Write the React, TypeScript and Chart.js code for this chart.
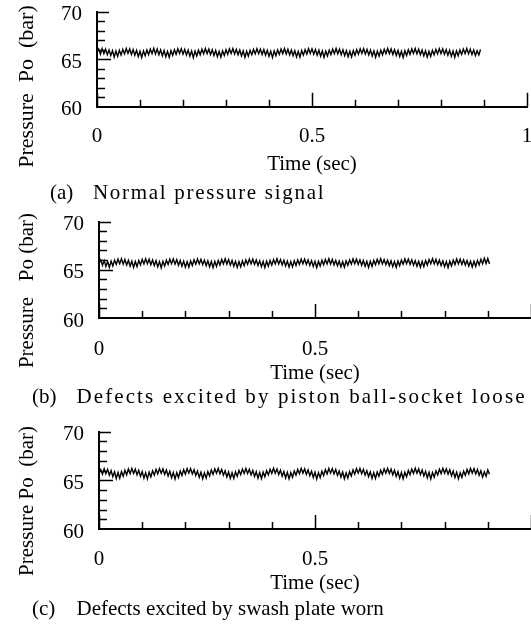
import React, { useEffect, useRef } from "react";
import { Chart, registerables } from "chart.js";

Chart.register(...registerables);

// ---------------- data ----------------
const sampleInterval = 0.004; // seconds between samples

const signalNormal = [
  65.75, 66.08, 65.52, 66.12, 65.58, 66.05, 65.48, 65.98, 65.38, 65.90, 65.22, 65.86, 65.30, 65.95, 65.45, 66.04,
  65.56, 66.13, 65.60, 66.09, 65.50, 66.02, 65.42, 65.93, 65.28, 65.84, 65.18, 65.88, 65.36, 65.97, 65.49, 66.06,
  65.58, 66.14, 65.55, 66.07, 65.47, 65.99, 65.35, 65.91, 65.25, 65.83, 65.20, 65.90, 65.40, 66.00, 65.52, 66.10,
  65.61, 66.11, 65.53, 66.03, 65.44, 65.96, 65.32, 65.87, 65.16, 65.85, 65.33, 65.94, 65.46, 66.05, 65.57, 66.12,
  65.59, 66.06, 65.49, 66.00, 65.40, 65.92, 65.27, 65.82, 65.21, 65.89, 65.38, 65.99, 65.51, 66.08, 65.60, 66.13,
  65.54, 66.04, 65.46, 65.97, 65.34, 65.88, 65.19, 65.84, 65.31, 65.93, 65.47, 66.03, 65.56, 66.11, 65.58, 66.07,
  65.50, 66.01, 65.41, 65.94, 65.29, 65.85, 65.17, 65.87, 65.37, 65.98, 65.50, 66.07, 65.59, 66.12, 65.55, 66.05,
  65.45, 65.97, 65.36, 65.90, 65.24, 65.83, 65.22, 65.91, 65.43, 66.01, 65.54, 66.10, 65.61, 66.09, 65.52, 66.02,
  65.42, 65.95, 65.31, 65.86, 65.19, 65.86, 65.35, 65.96, 65.48, 66.05, 65.58, 66.13, 65.57, 66.06, 65.47, 65.99,
  65.37, 65.91, 65.26, 65.84, 65.23, 65.90, 65.41, 66.00, 65.53, 66.09, 65.60, 66.11, 65.54, 66.03, 65.44, 65.96,
  65.33, 65.88, 65.20, 65.85, 65.32, 65.95, 65.46, 66.04, 65.57, 66.12, 65.59, 66.08, 65.50, 66.00, 65.39, 65.92,
  65.28, 65.84, 65.18, 65.89, 65.39, 65.99, 65.51, 66.08, 65.60, 66.13, 65.56, 66.05, 65.46, 65.97, 65.35, 65.89,
  65.23, 65.83, 65.30, 65.94, 65.45, 66.03, 65.55, 66.11, 65.59, 66.09, 65.52, 66.01, 65.42, 65.93, 65.30, 65.86,
  65.20, 65.87, 65.37, 65.98, 65.50, 66.07, 65.58, 66.13, 65.56, 66.06, 65.48, 65.98, 65.38, 65.90, 65.45, 66.02,
];

const signalBallSocket = [
  65.68, 66.02, 65.45, 65.95, 65.35, 65.88, 65.25, 65.90, 65.40, 66.00, 65.55, 66.10, 65.62, 66.14, 65.58, 66.06,
  65.48, 65.98, 65.36, 65.89, 65.24, 65.86, 65.33, 65.97, 65.50, 66.07, 65.60, 66.15, 65.63, 66.09, 65.52, 66.01,
  65.43, 65.94, 65.30, 65.85, 65.21, 65.88, 65.38, 65.99, 65.54, 66.10, 65.62, 66.13, 65.57, 66.04, 65.47, 65.96,
  65.37, 65.90, 65.26, 65.84, 65.27, 65.93, 65.44, 66.03, 65.58, 66.12, 65.61, 66.08, 65.53, 66.00, 65.41, 65.92,
  65.31, 65.87, 65.22, 65.87, 65.35, 65.97, 65.49, 66.07, 65.61, 66.14, 65.59, 66.05, 65.48, 65.97, 65.36, 65.88,
  65.25, 65.84, 65.29, 65.92, 65.42, 66.02, 65.56, 66.11, 65.63, 66.10, 65.55, 66.02, 65.44, 65.94, 65.32, 65.86,
  65.22, 65.89, 65.37, 65.97, 65.48, 66.06, 65.60, 66.14, 65.60, 66.06, 65.50, 65.98, 65.39, 65.90, 65.27, 65.85,
  65.30, 65.93, 65.44, 66.02, 65.55, 66.11, 65.62, 66.11, 65.55, 66.02, 65.45, 65.94, 65.34, 65.87, 65.23, 65.88,
  65.38, 65.98, 65.51, 66.07, 65.60, 66.14, 65.59, 66.07, 65.51, 65.98, 65.41, 65.91, 65.29, 65.85, 65.26, 65.92,
  65.45, 66.03, 65.57, 66.12, 65.63, 66.10, 65.56, 66.03, 65.46, 65.95, 65.36, 65.87, 65.24, 65.88, 65.34, 65.96,
  65.52, 66.08, 65.61, 66.15, 65.60, 66.06, 65.52, 65.99, 65.42, 65.92, 65.31, 65.85, 65.25, 65.91, 65.41, 66.01,
  65.58, 66.12, 65.63, 66.11, 65.56, 66.03, 65.47, 65.95, 65.37, 65.88, 65.26, 65.86, 65.32, 65.95, 65.48, 66.06,
  65.62, 66.15, 65.60, 66.07, 65.52, 65.99, 65.43, 65.91, 65.32, 65.85, 65.23, 65.89, 65.39, 66.00, 65.54, 66.11,
  65.61, 66.10, 65.55, 66.03, 65.48, 65.95, 65.38, 65.88, 65.28, 65.87, 65.35, 65.96, 65.50, 66.08, 65.62, 66.18,
  65.64, 66.16, 65.60,
];

const signalSwashPlate = [
  65.72, 66.10, 65.62, 66.18, 65.66, 66.12, 65.52, 66.00, 65.36, 65.86, 65.18, 65.80, 65.22, 65.88, 65.40, 66.02,
  65.56, 66.15, 65.68, 66.22, 65.70, 66.14, 65.56, 66.02, 65.40, 65.88, 65.20, 65.78, 65.14, 65.84, 65.34, 65.98,
  65.52, 66.12, 65.66, 66.20, 65.72, 66.16, 65.60, 66.05, 65.44, 65.92, 65.26, 65.80, 65.12, 65.79, 65.28, 65.94,
  65.48, 66.08, 65.63, 66.19, 65.73, 66.19, 65.64, 66.08, 65.48, 65.95, 65.30, 65.83, 65.15, 65.76, 65.22, 65.90,
  65.44, 66.05, 65.60, 66.17, 65.71, 66.21, 65.67, 66.11, 65.52, 65.98, 65.34, 65.85, 65.18, 65.77, 65.19, 65.87,
  65.40, 66.02, 65.58, 66.15, 65.70, 66.22, 65.69, 66.13, 65.55, 66.01, 65.38, 65.88, 65.21, 65.79, 65.16, 65.83,
  65.36, 65.99, 65.55, 66.13, 65.69, 66.23, 65.71, 66.15, 65.58, 66.04, 65.42, 65.90, 65.24, 65.81, 65.14, 65.80,
  65.32, 65.96, 65.52, 66.11, 65.67, 66.22, 65.72, 66.17, 65.61, 66.07, 65.46, 65.93, 65.28, 65.82, 65.13, 65.78,
  65.27, 65.93, 65.48, 66.09, 65.65, 66.21, 65.73, 66.19, 65.64, 66.10, 65.50, 65.96, 65.32, 65.84, 65.15, 65.76,
  65.22, 65.89, 65.44, 66.06, 65.63, 66.19, 65.73, 66.21, 65.67, 66.12, 65.53, 65.99, 65.36, 65.86, 65.18, 65.77,
  65.18, 65.85, 65.40, 66.03, 65.60, 66.17, 65.72, 66.22, 65.69, 66.14, 65.56, 66.02, 65.39, 65.88, 65.21, 65.79,
  65.15, 65.82, 65.36, 66.00, 65.57, 66.15, 65.70, 66.23, 65.71, 66.16, 65.59, 66.05, 65.43, 65.91, 65.24, 65.81,
  65.13, 65.79, 65.32, 65.97, 65.54, 66.13, 65.68, 66.22, 65.72, 66.18, 65.62, 66.08, 65.47, 65.94, 65.28, 65.83,
  65.14, 65.77, 65.28, 65.94, 65.51, 66.11, 65.66, 66.21, 65.73, 66.20, 65.65, 66.11, 65.51, 65.97, 65.32, 65.86,
  65.40, 66.05, 65.62,
];

const yTickValues = [60, 65, 70];
const yMinorTicks = [61, 62, 63, 64, 66, 67, 68, 69];
const xTickValuesFull = [0, 0.5, 1];
const xTickValuesShort = [0, 0.5];
const xMinorTicks = [0.1, 0.2, 0.3, 0.4, 0.6, 0.7, 0.8, 0.9];
const xMajorTicks = [0, 0.5, 1];

const xTitle = "Time (sec)";
const yTitles = ["Pressure  Po  (bar)", "Pressure   Po (bar)", "Pressure Po  (bar)"];
const captionTags = ["(a)", "(b)", "(c)"];
const captionTexts = [
  "Normal pressure signal",
  "Defects excited by piston ball-socket loose",
  "Defects excited by swash plate worn",
];

// ---------------- layout ----------------
const FONT = "'Liberation Serif', 'Times New Roman', Times, serif";
const FS = 21;
const CANVAS_W = 560;

type PanelCfg = {
  top: number;
  height: number;
  values: number[];
  xTicks: number[];
  plotLeft: number;
  plotRight: number;
  plotTop: number;
  plotBottom: number;
  xLabelY: number;
  timeY: number;
  yTitle: string;
  yTitleSize: number;
  yTitleX: number;
  yTitleY: number;
  tag: string;
  tagX: number;
  caption: string;
  captionX: number;
  captionY: number;
  captionSpacing: number;
};

const panels: PanelCfg[] = [
  {
    top: 0, height: 210, values: signalNormal, xTicks: xTickValuesFull,
    plotLeft: 97, plotRight: 527, plotTop: 11.7, plotBottom: 106.7,
    xLabelY: 136.7, timeY: 164, yTitle: yTitles[0], yTitleSize: 22, yTitleX: 27, yTitleY: 86.5,
    tag: captionTags[0], tagX: 50, caption: captionTexts[0], captionX: 93, captionY: 193, captionSpacing: 1.7,
  },
  {
    top: 210, height: 210, values: signalBallSocket, xTicks: xTickValuesShort,
    plotLeft: 99, plotRight: 531, plotTop: 11.5, plotBottom: 108,
    xLabelY: 139.7, timeY: 163.5, yTitle: yTitles[1], yTitleSize: 21, yTitleX: 27, yTitleY: 80.5,
    tag: captionTags[1], tagX: 32, caption: captionTexts[1], captionX: 76.5, captionY: 187, captionSpacing: 2.1,
  },
  {
    top: 420, height: 209, values: signalSwashPlate, xTicks: xTickValuesShort,
    plotLeft: 99, plotRight: 531, plotTop: 11.5, plotBottom: 109,
    xLabelY: 139.7, timeY: 163.5, yTitle: yTitles[2], yTitleSize: 21, yTitleX: 27, yTitleY: 81,
    tag: captionTags[2], tagX: 32, caption: captionTexts[2], captionX: 76.5, captionY: 189, captionSpacing: 0,
  },
];

function Panel({ cfg }: { cfg: PanelCfg }) {
  const ref = useRef<HTMLCanvasElement | null>(null);

  useEffect(() => {
    const canvas = ref.current;
    if (!canvas) return;
    const data = cfg.values.map((v, i) => ({ x: +(i * sampleInterval).toFixed(4), y: v }));

    const decor = {
      id: "decor",
      afterDraw(chart: any) {
        const { ctx, chartArea, scales } = chart;
        const xs = scales.x;
        const ys = scales.y;
        ctx.save();
        ctx.strokeStyle = "#000";
        ctx.lineWidth = 1.5;
        ctx.beginPath();
        for (const v of xMinorTicks) {
          const px = Math.round(xs.getPixelForValue(v)) + 0.5;
          ctx.moveTo(px, chartArea.bottom);
          ctx.lineTo(px, chartArea.bottom - 7);
        }
        for (const v of xMajorTicks) {
          const px = Math.round(xs.getPixelForValue(v)) + 0.5;
          ctx.moveTo(px, chartArea.bottom);
          ctx.lineTo(px, chartArea.bottom - 14);
        }
        for (const v of yMinorTicks) {
          const py = Math.round(ys.getPixelForValue(v)) + 0.5;
          ctx.moveTo(chartArea.left, py);
          ctx.lineTo(chartArea.left + 8, py);
        }
        {
          const py = Math.round(ys.getPixelForValue(65)) + 0.5;
          ctx.moveTo(chartArea.left, py);
          ctx.lineTo(chartArea.left + 14, py);
          const pt = Math.round(ys.getPixelForValue(70)) + 0.5;
          ctx.moveTo(chartArea.left, pt);
          ctx.lineTo(chartArea.left + 12, pt);
        }
        ctx.stroke();

        ctx.fillStyle = "#000";
        ctx.font = `${FS}px ${FONT}`;
        ctx.textBaseline = "middle";
        ctx.textAlign = "left";
        ctx.fillText(cfg.tag, cfg.tagX, cfg.captionY);
        (ctx as any).letterSpacing = `${cfg.captionSpacing}px`;
        ctx.fillText(cfg.caption, cfg.captionX, cfg.captionY);
        (ctx as any).letterSpacing = "0px";

        ctx.font = `${cfg.yTitleSize}px ${FONT}`;
        ctx.translate(cfg.yTitleX, cfg.yTitleY);
        ctx.rotate(-Math.PI / 2);
        ctx.textAlign = "center";
        ctx.fillText(cfg.yTitle, 0, 0);
        ctx.restore();
      },
    };

    const H = cfg.height;
    const chart = new Chart(canvas, {
      type: "line",
      data: {
        datasets: [
          {
            data,
            borderColor: "#000",
            borderWidth: 1.4,
            pointRadius: 0,
            tension: 0,
            fill: false,
          },
        ],
      },
      options: {
        responsive: false,
        animation: false,
        events: [],
        layout: {
          padding: { left: 0, top: cfg.plotTop, right: CANVAS_W - cfg.plotRight, bottom: 0 },
        },
        plugins: {
          legend: { display: false },
          tooltip: { enabled: false },
          title: { display: false },
        },
        scales: {
          x: {
            type: "linear",
            min: 0,
            max: 1,
            afterBuildTicks: (s: any) => {
              s.ticks = cfg.xTicks.map((v) => ({ value: v }));
            },
            afterFit: (s: any) => {
              s.height = H - cfg.plotBottom;
            },
            grid: { display: false, drawTicks: false },
            border: { display: true, color: "#000", width: 2 },
            ticks: {
              color: "#000",
              font: { family: FONT, size: FS, lineHeight: 1 },
              padding: cfg.xLabelY - cfg.plotBottom - FS / 2,
              maxRotation: 0,
              autoSkip: false,
              callback: (v: any) => String(v),
            },
            title: {
              display: true,
              text: xTitle,
              color: "#000",
              font: { family: FONT, size: FS, lineHeight: 1.2 },
              padding: { top: 0, bottom: H - cfg.timeY - (FS * 1.2) / 2 },
            },
          },
          y: {
            type: "linear",
            min: 60,
            max: 70,
            afterBuildTicks: (s: any) => {
              s.ticks = yTickValues.map((v) => ({ value: v }));
            },
            afterFit: (s: any) => {
              s.width = cfg.plotLeft;
            },
            grid: { display: false, drawTicks: true, tickLength: 14 },
            border: { display: true, color: "#000", width: 2 },
            ticks: {
              color: "#000",
              font: { family: FONT, size: FS, lineHeight: 1 },
              padding: 1,
              labelOffset: 3,
              autoSkip: false,
              callback: (v: any) => String(v),
            },
          },
        },
      } as any,
      plugins: [decor],
    });
    return () => chart.destroy();
  }, [cfg]);

  return (
    <canvas
      ref={ref}
      width={CANVAS_W}
      height={cfg.height}
      style={{ position: "absolute", left: 0, top: cfg.top, width: CANVAS_W, height: cfg.height, display: "block" }}
    />
  );
}

export default function App() {
  return (
    <div
      style={{
        position: "absolute",
        left: 0,
        top: 0,
        width: 531,
        height: 629,
        overflow: "hidden",
        background: "#fff",
      }}
    >
      {panels.map((p, i) => (
        <Panel key={i} cfg={p} />
      ))}
    </div>
  );
}
